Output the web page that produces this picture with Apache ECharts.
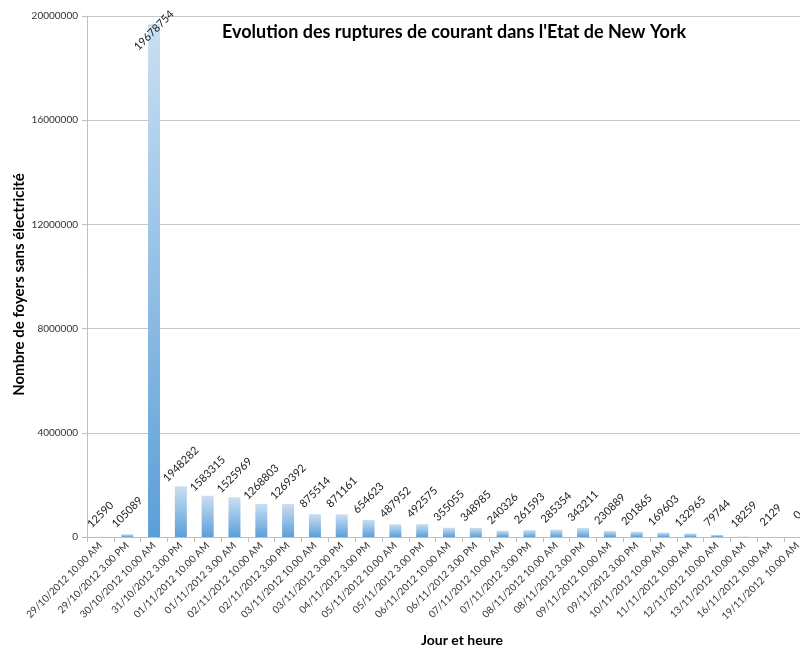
<!DOCTYPE html>
<html>
<head>
<meta charset="utf-8">
<title>Evolution des ruptures de courant dans l'Etat de New York</title>
<script src="https://cdn.jsdelivr.net/npm/echarts@6/dist/echarts.min.js"></script>
<style>
  html, body { margin: 0; padding: 0; background: #ffffff; }
  #chart { width: 800px; height: 646px; }
</style>
</head>
<body>
<div id="chart"></div>
<script>
// Relevés : jour et heure
const categories = [
  '29/10/2012 10.00 AM', '29/10/2012 3.00 PM', '30/10/2012 10.00 AM', '31/10/2012 3.00 PM',
  '01/11/2012 10.00 AM', '01/11/2012 3.00 AM', '02/11/2012 10.00 AM', '02/11/2012 3.00 PM',
  '03/11/2012 10.00 AM', '03/11/2012 3.00 PM', '04/11/2012 3.00 PM', '05/11/2012 10.00 AM',
  '05/11/2012 3.00 PM', '06/11/2012 10.00 AM', '06/11/2012 3.00 PM', '07/11/2012 10.00 AM',
  '07/11/2012 3.00 PM', '08/11/2012 10.00 AM', '08/11/2012 3.00 PM', '09/11/2012 10.00 AM',
  '09/11/2012 3.00 PM', '10/11/2012 10.00 AM', '11/11/2012 10.00 AM', '12/11/2012 10.00 AM',
  '13/11/2012 10.00 AM', '16/11/2012 10.00 AM', '19/11/2012  10.00 AM'
];

// Nombre de foyers sans électricité
const foyersSansElectricite = [
  12590, 105089, 19678754, 1948282, 1583315, 1525969, 1268803, 1269392,
  875514, 871161, 654623, 487952, 492575, 355055, 348985, 240326,
  261593, 285354, 343211, 230889, 201865, 169603, 132965, 79744,
  18259, 2129, 0
];

const yMin = 0;
const yMax = 20000000;
const yStep = 4000000;

const titre = "Evolution des ruptures de courant dans l'Etat de New York";
const titreAxeX = 'Jour et heure';
const titreAxeY = 'Nombre de foyers sans électricité';

const FONT = 'Lato, "Open Sans", sans-serif';

// The tallest bar reaches the top of the plot, so its label sits over the bar's top end.
const barData = foyersSansElectricite.map(v => {
  if (v === Math.max(...foyersSansElectricite)) {
    return { value: v, label: { distance: -6 } };
  }
  return v;
});

const chart = echarts.init(document.getElementById('chart'), null, { renderer: 'canvas' });

chart.setOption({
  backgroundColor: '#ffffff',
  animation: false,
  title: {
    text: titre,
    left: 217,
    top: 18,
    textStyle: { fontFamily: FONT, fontSize: 18, fontWeight: 'bold', color: '#000000' }
  },
  grid: { left: 87, top: 16, width: 724, height: 521, containLabel: false, outerBoundsMode: 'none' },
  xAxis: {
    type: 'category',
    data: categories,
    boundaryGap: true,
    name: titreAxeX,
    nameLocation: 'middle',
    nameGap: 96,
    nameMoveOverlap: false,
    nameTextStyle: { fontFamily: FONT, fontSize: 14, fontWeight: 'bold', color: '#000000', padding: [0, 0, 0, 26] },
    axisLine: { show: true, lineStyle: { color: '#bfbfbf', width: 1 } },
    axisTick: { show: true, alignWithLabel: false, length: 5, lineStyle: { color: '#bfbfbf' } },
    axisLabel: {
      interval: 0,
      rotate: 45,
      margin: 7,
      fontFamily: FONT,
      fontSize: 10,
      color: '#333333'
    },
    splitLine: { show: false }
  },
  yAxis: {
    type: 'value',
    min: yMin,
    max: yMax,
    interval: yStep,
    name: titreAxeY,
    nameLocation: 'middle',
    nameGap: 60,
    nameRotate: 90,
    nameMoveOverlap: false,
    nameTextStyle: { fontFamily: FONT, fontSize: 15, fontWeight: 'bold', color: '#000000', padding: [0, 16, 0, 0] },
    axisLine: { show: true, lineStyle: { color: '#bfbfbf', width: 1 } },
    axisTick: { show: true, length: 5, lineStyle: { color: '#bfbfbf' } },
    axisLabel: {
      margin: 9,
      fontFamily: FONT,
      fontSize: 10,
      color: '#333333',
      formatter: v => String(v)
    },
    splitLine: { show: true, lineStyle: { color: '#c8c8c8', width: 1 } }
  },
  series: [{
    type: 'bar',
    data: barData,
    barWidth: 12,
    itemStyle: {
      color: new echarts.graphic.LinearGradient(0, 0, 0, 1, [
        { offset: 0, color: '#cadff2' },
        { offset: 1, color: '#5b9fd8' }
      ])
    },
    label: {
      show: true,
      position: 'top',
      distance: 22,
      rotate: 45,
      align: 'center',
      verticalAlign: 'middle',
      fontFamily: FONT,
      fontSize: 11,
      color: '#222222',
      formatter: p => String(p.value)
    }
  }]
});
</script>
</body>
</html>
